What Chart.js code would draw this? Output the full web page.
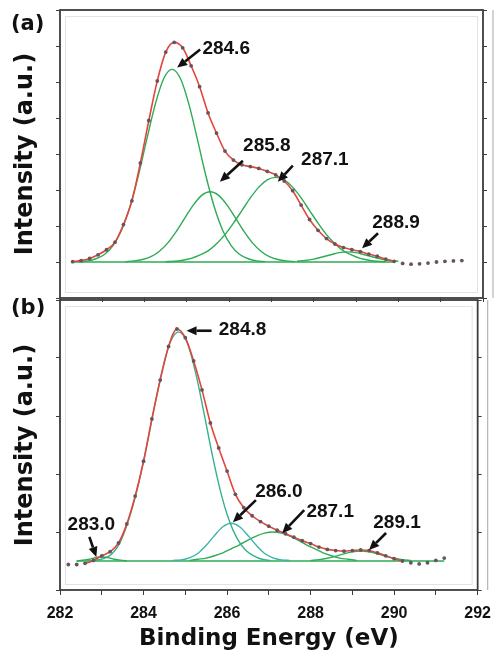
<!DOCTYPE html>
<html>
<head>
<meta charset="utf-8">
<script src="https://cdn.jsdelivr.net/npm/chart.js@4.4.0/dist/chart.umd.min.js"></script>
<style>
  html, body { margin:0; padding:0; background:#fff; }
  #wrap { position:relative; width:500px; height:656px; overflow:hidden; }
  canvas { position:absolute; left:0; }
  #cA { top:0; }
  #cB { top:296px; }
</style>
</head>
<body>
<div id="wrap">
  <canvas id="cA" width="500" height="302"></canvas>
  <canvas id="cB" width="500" height="360"></canvas>
</div>
<script>
// ---------- panel (a) ----------
var measEA = [282.3,282.5,282.7,282.9,283.1,283.3,283.5,283.7,283.9,284.1,284.3,284.5,284.7,284.9,285.1,285.3,285.5,285.7,285.9,286.1,286.3,286.5,286.7,286.9,287.1,287.3,287.5,287.7,287.9,288.1,288.3,288.5,288.7,288.9,289.1,289.3,289.5,289.7,289.9,290.1,290.3,290.5,290.7,290.9,291.1,291.3,291.5];
var measIA = [0.01,0.04,0.10,0.20,0.34,0.55,1.04,1.70,2.75,3.93,5.03,5.83,6.10,5.95,5.45,4.87,4.14,3.58,3.08,2.83,2.70,2.65,2.60,2.52,2.42,2.25,1.98,1.58,1.18,0.88,0.65,0.50,0.40,0.34,0.29,0.22,0.16,0.08,0.02,-0.04,-0.06,-0.05,-0.03,0.00,0.02,0.03,0.04];
var fitRangeA = [282.3, 289.9];

var a1E = [282.45,282.65,282.85,283.05,283.25,283.45,283.65,283.85,284.05,284.25,284.45,284.65,284.85,285.05,285.25,285.45,285.65,285.85,286.05,286.25,286.45,286.65,286.85];
var a1I = [0.01,0.03,0.09,0.21,0.45,0.87,1.52,2.39,3.40,4.37,5.09,5.35,5.09,4.37,3.40,2.39,1.52,0.87,0.45,0.21,0.09,0.03,0.01];
var a2E = [283.55,283.75,283.95,284.15,284.35,284.55,284.75,284.95,285.15,285.35,285.55,285.75,285.95,286.15,286.35,286.55,286.75,286.95,287.15,287.35,287.55];
var a2I = [0.01,0.03,0.07,0.15,0.30,0.53,0.85,1.22,1.58,1.85,1.95,1.85,1.58,1.22,0.85,0.53,0.30,0.15,0.07,0.03,0.01];
var a3E = [284.5,284.7,284.9,285.1,285.3,285.5,285.7,285.9,286.1,286.3,286.5,286.7,286.9,287.1,287.3,287.5,287.7,287.9,288.1,288.3,288.5,288.7,288.9,289.1,289.3,289.5,289.7];
var a3I = [0.01,0.02,0.05,0.10,0.19,0.31,0.51,0.76,1.08,1.43,1.78,2.08,2.28,2.35,2.28,2.08,1.78,1.43,1.08,0.76,0.51,0.31,0.19,0.10,0.05,0.02,0.01];
var a4E = [287.6,287.8,288.0,288.2,288.4,288.6,288.8,289.0,289.2,289.4,289.6,289.8,290.0];
var a4I = [0.02,0.04,0.08,0.14,0.20,0.26,0.28,0.26,0.20,0.14,0.08,0.04,0.02];
var baseEA = [282.3, 289.9];
var baseIA = [0, 0];

var calloutsA = [
  { text:'284.6', e:284.77, v:5.40, tx:49, ty:-19, ax:23, ay:-18 },
  { text:'285.8', e:285.78, v:2.23, tx:47, ty:-36, ax:23, ay:-21 },
  { text:'287.1', e:287.15, v:2.23, tx:47, ty:-22, ax:15, ay:-16 },
  { text:'288.9', e:289.14, v:0.38, tx:34, ty:-26, ax:16, ay:-15 }
];

// ---------- panel (b) ----------
var measEB = [282.2,282.4,282.6,282.8,283.0,283.2,283.4,283.6,283.8,284.0,284.2,284.4,284.6,284.8,285.0,285.2,285.4,285.6,285.8,286.0,286.2,286.4,286.6,286.8,287.0,287.2,287.4,287.6,287.8,288.0,288.2,288.4,288.6,288.8,289.0,289.2,289.4,289.6,289.8,290.0,290.2,290.4,290.6,290.8,291.0,291.2];
var measIB = [-0.06,-0.06,-0.04,0.01,0.09,0.16,0.31,0.64,1.12,1.72,2.45,3.12,3.70,4.00,3.85,3.45,2.95,2.38,1.95,1.55,1.15,0.92,0.78,0.68,0.60,0.53,0.47,0.41,0.35,0.30,0.24,0.20,0.18,0.17,0.18,0.19,0.18,0.14,0.09,0.04,0.00,-0.03,-0.05,-0.03,0.01,0.05];
var fitRangeB = [282.6, 290.2];

var b0E = [282.4,282.5,282.6,282.7,282.8,282.9,283.0,283.1,283.2,283.3,283.4,283.5,283.6];
var b0I = [0.00,0.01,0.02,0.03,0.05,0.065,0.07,0.065,0.05,0.03,0.02,0.01,0.00];
var b1E = [282.64,282.84,283.04,283.24,283.44,283.64,283.84,284.04,284.24,284.44,284.64,284.84,285.04,285.24,285.44,285.64,285.84,286.04,286.24,286.44,286.64,286.84,287.04];
var b1I = [0.00,0.01,0.04,0.12,0.32,0.70,1.21,1.85,2.58,3.27,3.77,3.95,3.77,3.27,2.58,1.85,1.21,0.72,0.39,0.19,0.09,0.03,0.01];
var b2E = [284.7,284.9,285.1,285.3,285.5,285.7,285.9,286.1,286.3,286.5,286.7,286.9,287.1,287.3,287.5];
var b2I = [0.01,0.02,0.055,0.13,0.27,0.44,0.59,0.65,0.59,0.44,0.27,0.13,0.055,0.02,0.01];
var b3E = [285.1,285.3,285.5,285.7,285.9,286.1,286.3,286.5,286.7,286.9,287.1,287.3,287.5,287.7,287.9,288.1,288.3,288.5,288.7,288.9,289.1];
var b3I = [0.01,0.03,0.05,0.09,0.14,0.21,0.28,0.36,0.43,0.48,0.50,0.48,0.43,0.36,0.28,0.21,0.14,0.09,0.05,0.03,0.01];
var b4E = [288.0,288.2,288.4,288.6,288.8,289.0,289.2,289.4,289.6,289.8,290.0,290.2,290.4];
var b4I = [0.01,0.023,0.047,0.083,0.123,0.157,0.17,0.157,0.123,0.083,0.047,0.023,0.01];
var baseEB = [282.4, 291.2];
var baseIB = [0, 0];

var calloutsB = [
  { text:'284.8', e:285.03, v:3.97, tx:56, ty:-1, ax:25, ay:0 },
  { text:'286.0', e:286.14, v:0.67, tx:46, ty:-30, ax:23, ay:-22 },
  { text:'287.1', e:287.32, v:0.48, tx:48, ty:-21, ax:22, ay:-23 },
  { text:'289.1', e:289.40, v:0.19, tx:28, ty:-27, ax:17, ay:-17 },
  { text:'283.0', e:282.87, v:0.07, tx:-5, ty:-32, ax:-7, ay:-20 }
];

var RED = '#e4453b';
var GREEN = '#2dab55';
var TEAL = '#35b08c';
var DOT = '#65555e';
var AXIS = '#3c3c3c';

function pts(E, I) {
  return E.map(function(e, i){ return { x:e, y:I[i] }; });
}

function measuredSet(E, I, range) {
  return {
    data: pts(E, I),
    borderColor: RED,
    borderWidth: 1.6,
    pointRadius: 1.9,
    pointBackgroundColor: DOT,
    pointBorderWidth: 0,
    cubicInterpolationMode: 'monotone',
    segment: {
      borderColor: function(ctx){
        var a = ctx.p0.parsed.x, b = ctx.p1.parsed.x;
        return (a >= range[0] - 1e-6 && b <= range[1] + 1e-6) ? RED : 'rgba(0,0,0,0)';
      }
    }
  };
}

function compSet(E, I, color) {
  return {
    data: pts(E, I),
    borderColor: color,
    borderWidth: 1.4,
    pointRadius: 0,
    cubicInterpolationMode: 'monotone'
  };
}

function drawArrow(ctx, x1, y1, x2, y2) {
  var ang = Math.atan2(y2 - y1, x2 - x1), head = 10, half = 4.5;
  var bx = x2 - head * Math.cos(ang), by = y2 - head * Math.sin(ang);
  ctx.beginPath();
  ctx.moveTo(x1, y1);
  ctx.lineTo(bx, by);
  ctx.lineWidth = 2.6;
  ctx.stroke();
  ctx.beginPath();
  ctx.moveTo(x2, y2);
  ctx.lineTo(bx + half * Math.sin(ang), by - half * Math.cos(ang));
  ctx.lineTo(bx - half * Math.sin(ang), by + half * Math.cos(ang));
  ctx.closePath();
  ctx.fill();
}

var framePlugin = {
  id: 'frame',
  beforeDatasetsDraw: function(chart) {
    var c = chart.ctx, a = chart.chartArea;
    c.save();
    c.strokeStyle = '#e3e3e3';
    c.lineWidth = 1;
    c.strokeRect(a.left + 5.5, a.top + 6.5, a.width - 11, a.height - 12);
    c.restore();
  },
  afterDraw: function(chart, args, opts) {
    var c = chart.ctx, a = chart.chartArea;
    c.save();
    c.strokeStyle = AXIS;
    c.lineWidth = 1.8;
    c.strokeRect(a.left, a.top, a.width, a.height);
    c.strokeStyle = '#b5b5b5';
    c.lineWidth = 1.2;
    c.beginPath();
    c.moveTo(a.right + 10, a.top);
    c.lineTo(a.right + 10, a.bottom);
    c.stroke();
    // panel tag
    c.fillStyle = '#111';
    c.font = 'bold 21px "DejaVu Sans"';
    c.textAlign = 'left';
    c.textBaseline = 'middle';
    c.fillText(opts.tag, 11, opts.tagY);
    c.restore();
  }
};

var calloutPlugin = {
  id: 'callouts',
  afterDatasetsDraw: function(chart, args, opts) {
    var c = chart.ctx, sx = chart.scales.x, sy = chart.scales.y;
    c.save();
    c.fillStyle = '#111';
    c.strokeStyle = '#111';
    c.font = 'bold 19px "Liberation Sans", Arial, sans-serif';
    c.textAlign = 'center';
    c.textBaseline = 'middle';
    opts.items.forEach(function(it){
      var px = sx.getPixelForValue(it.e), py = sy.getPixelForValue(it.v);
      drawArrow(c, px + it.ax, py + it.ay, px, py);
      c.fillText(it.text, px + it.tx, py + it.ty);
    });
    c.restore();
  }
};

function baseOptions(cfg) {
  return {
    responsive: false,
    animation: false,
    devicePixelRatio: 1,
    layout: { padding: { top: cfg.padTop, right: 0, left: 0, bottom: 0 } },
    plugins: {
      legend: { display: false },
      tooltip: { enabled: false },
      callouts: { items: cfg.callouts },
      frame: { tag: cfg.tag, tagY: cfg.tagY }
    },
    scales: {
      x: {
        type: 'linear', min: 282, max: 292,
        afterFit: function(s){ s.height = cfg.xHeight; },
        border: { display: false },
        grid: { drawOnChartArea: false, tickLength: 5, color: AXIS },
        ticks: {
          display: cfg.xLabels, stepSize: 1, padding: 9, color: '#111',
          font: { family: '"Liberation Sans", Arial, sans-serif', weight: 'bold', size: 16 },
          maxRotation: 0, autoSkip: false,
          callback: function(v){ return v % 2 === 0 ? String(v) : ''; }
        },
        title: {
          display: cfg.xLabels, text: 'Binding Energy (eV)', color: '#111',
          font: { family: '"DejaVu Sans"', weight: 'bold', size: 23 },
          padding: { top: 0, bottom: 3 }
        }
      },
      y: {
        min: cfg.ymin, max: cfg.ymax,
        afterFit: function(s){ s.width = 60; },
        border: { display: false },
        grid: { drawOnChartArea: false, tickLength: 4, color: AXIS },
        ticks: { display: false, stepSize: 1 },
        title: {
          display: true, text: 'Intensity (a.u.)', color: '#111',
          font: { family: '"DejaVu Sans"', weight: 'bold', size: 24 },
          padding: { top: 11, bottom: 0 }
        }
      },
      yr: {
        position: 'right', min: cfg.ymin, max: cfg.ymax,
        afterFit: function(s){ s.width = 17; },
        border: { display: false },
        grid: { drawOnChartArea: false, tickLength: 4, color: AXIS },
        ticks: { display: false, stepSize: 1 }
      }
    }
  };
}

new Chart(document.getElementById('cA'), {
  type: 'line',
  data: {
    datasets: [
      measuredSet(measEA, measIA, fitRangeA),
      compSet(a1E, a1I, GREEN),
      compSet(a2E, a2I, GREEN),
      compSet(a3E, a3I, GREEN),
      compSet(a4E, a4I, GREEN),
      compSet(baseEA, baseIA, GREEN)
    ]
  },
  options: baseOptions({ padTop: 10, xHeight: 2, xLabels: false, ymin: -1, ymax: 7,
                         callouts: calloutsA, tag: '(a)', tagY: 25 }),
  plugins: [framePlugin, calloutPlugin]
});

new Chart(document.getElementById('cB'), {
  type: 'line',
  data: {
    datasets: [
      measuredSet(measEB, measIB, fitRangeB),
      compSet(b0E, b0I, GREEN),
      compSet(b1E, b1I, TEAL),
      compSet(b2E, b2I, '#3cb3a8'),
      compSet(b3E, b3I, GREEN),
      compSet(b4E, b4I, GREEN),
      compSet(baseEB, baseIB, GREEN)
    ]
  },
  options: baseOptions({ padTop: 4, xHeight: 66, xLabels: true, ymin: -0.5, ymax: 4.5,
                         callouts: calloutsB, tag: '(b)', tagY: 13 }),
  plugins: [framePlugin, calloutPlugin]
});
</script>
</body>
</html>
